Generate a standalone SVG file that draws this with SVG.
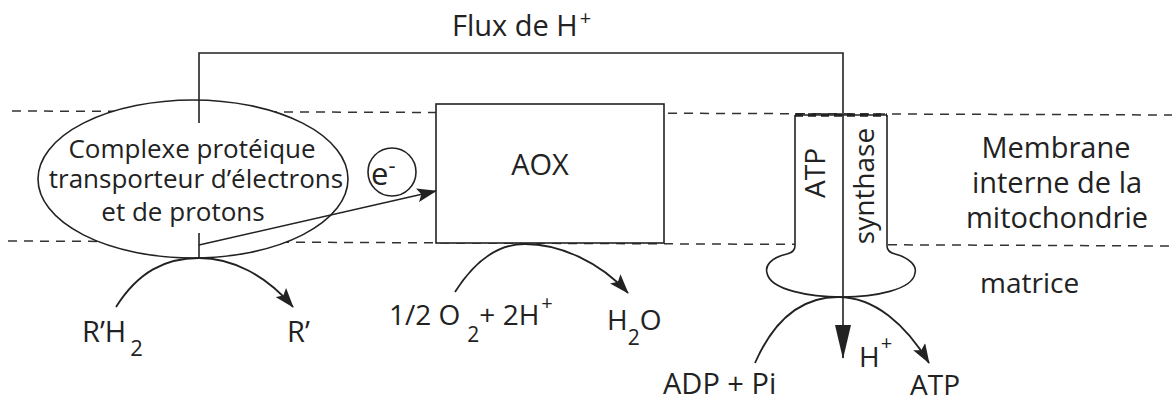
<svg xmlns="http://www.w3.org/2000/svg" width="1175" height="403" viewBox="0 0 1175 403">
<defs>
<style>
text{font-family:"Open Sans","Noto Sans","Liberation Sans",sans-serif;fill:#222;}
.ln{fill:none;stroke:#222;stroke-width:1.6;}
.arc{fill:none;stroke:#222;stroke-width:1.8;}
.dash{fill:none;stroke:#333;stroke-width:1.5;stroke-dasharray:9 7;}
.shape{fill:#fff;stroke:#222;stroke-width:1.6;}
</style>
<marker id="ah" viewBox="0 0 20 14" refX="19" refY="7" markerWidth="20" markerHeight="14" orient="auto" markerUnits="userSpaceOnUse">
<path d="M0,0 L20,7 L0,14 L4,7 Z" fill="#222"/>
</marker>
<marker id="ahv" viewBox="0 0 34 16" refX="33" refY="8" markerWidth="34" markerHeight="16" orient="auto" markerUnits="userSpaceOnUse">
<path d="M0,0 L34,8 L0,16 Z" fill="#222"/>
</marker>
</defs>
<rect width="1175" height="403" fill="#fff"/>

<g id="membrane">
<line class="dash" x1="12" y1="111" x2="1172" y2="115"/>
<line class="dash" x1="8" y1="241" x2="1172" y2="246"/>
</g>

<g id="complexe">
<ellipse class="shape" cx="193" cy="179" rx="155" ry="79"/>
<text x="192" y="158" font-size="26" text-anchor="middle">Complexe protéique</text>
<text x="196" y="188" font-size="26" text-anchor="middle">transporteur d’électrons</text>
<text x="183" y="221" font-size="26" text-anchor="middle">et de protons</text>
</g>

<g id="electron">
<circle class="shape" cx="392" cy="172" r="24"/>
<text x="371" y="185" font-size="31">e<tspan font-size="22" dy="-12">-</tspan></text>
</g>

<g id="aox">
<rect class="shape" x="436" y="104" width="228" height="139"/>
<text x="540" y="175" font-size="29" text-anchor="middle">AOX</text>
</g>

<g id="atp-synthase">
<path class="shape" d="M795,115 V246 Q795,252 787,254 C770,258 765,266 767,273 C770,290 810,297 842,297 C874,297 913,290 915,273 C917,266 910,258 895,254 Q887,252 887,246 V115"/>
<line x1="795" y1="115" x2="887" y2="115" stroke="#222" stroke-width="1.6"/>
<line x1="795" y1="115" x2="887" y2="115" stroke="#222" stroke-width="3.5" stroke-dasharray="8 5"/>
<text transform="translate(825,173) rotate(-90)" font-size="28" text-anchor="middle">ATP</text>
<text transform="translate(874,186) rotate(-90)" font-size="28" text-anchor="middle">synthase</text>
</g>

<g id="labels">
<text x="452" y="36" font-size="29">Flux de H<tspan font-size="20" dx="2" dy="-11">+</tspan></text>
<text x="1056" y="158" font-size="29" text-anchor="middle">Membrane</text>
<text x="1057" y="193" font-size="29" text-anchor="middle">interne de la</text>
<text x="1057" y="228" font-size="29" text-anchor="middle">mitochondrie</text>
<text x="980" y="293" font-size="28">matrice</text>
<text x="82" y="342" font-size="29">R’H<tspan font-size="22" dx="4" dy="14">2</tspan></text>
<text x="287" y="342" font-size="29">R’</text>
<text x="389" y="325" font-size="28">1/2 O<tspan font-size="21" dx="7" dy="17">2</tspan><tspan dy="-17">+ 2H</tspan><tspan font-size="20" dx="2" dy="-15">+</tspan></text>
<text x="607" y="330" font-size="28">H<tspan font-size="21" dy="15">2</tspan><tspan dy="-15">O</tspan></text>
<text x="663" y="394" font-size="29">ADP + Pi</text>
<text x="859" y="367" font-size="28">H<tspan font-size="20" dx="1" dy="-17">+</tspan></text>
<text x="910" y="395" font-size="28">ATP</text>
</g>

<g id="connectors">
<path class="ln" d="M199,123 V53 H843 V358" marker-end="url(#ahv)"/>
<line class="ln" x1="199" y1="233" x2="199" y2="258"/>
<line class="ln" x1="199" y1="245" x2="436" y2="191" marker-end="url(#ah)"/>
<path class="arc" d="M116,307 C138,272 165,258 199,258 C232,258 266,275 293,307" marker-end="url(#ah)"/>
<path class="arc" d="M455,292 C474,262 498,244 525,244 C560,244 600,262 628,293" marker-end="url(#ah)"/>
<path class="arc" d="M755,363 C773,322 800,297 838,297 C875,297 906,325 929,363" marker-end="url(#ah)"/>
</g>
</svg>
